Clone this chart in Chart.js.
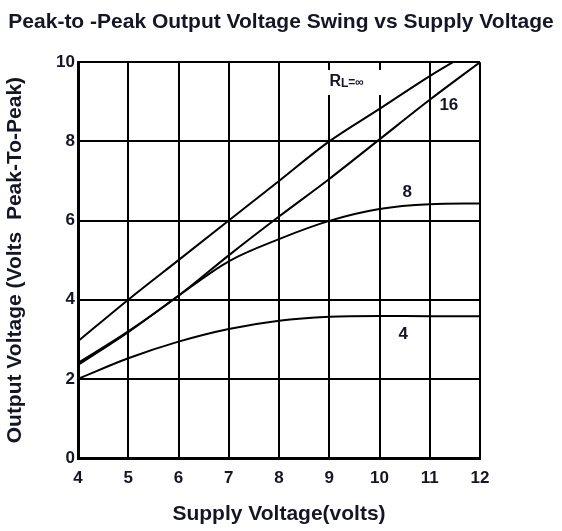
<!DOCTYPE html>
<html>
<head>
<meta charset="utf-8">
<script src="https://cdn.jsdelivr.net/npm/chart.js@4"></script>
<style>
  html, body { margin: 0; padding: 0; background: #fff; }
  #wrap { width: 562px; height: 531px; }
</style>
</head>
<body>
<div id="wrap"><canvas id="swingChart"></canvas></div>
<script>
// supply voltage (x) and output swing for each load
const supplyV = [4, 5, 6, 7, 8, 9, 10, 11, 12];
const swingInf = [2.95, 4.0, 5.0, 6.0, 7.0, 8.0, 8.82, 9.65, 10.4];
const swing16 = [2.4, 3.2, 4.1, 5.12, 6.1, 7.05, 8.05, 9.05, 10.0];
const swing8 = [2.35, 3.18, 4.1, 4.97, 5.53, 5.99, 6.29, 6.41, 6.43];
const swing4 = [2.0, 2.52, 2.94, 3.26, 3.47, 3.57, 3.59, 3.58, 3.58];

const yTicks = [0, 2, 4, 6, 8, 10];

// curve labels, placed in data units
const curveLabels = ['RL=∞', '16', '8', '4'];
const labelX = [9.5, 11.38, 10.55, 10.47];
const labelY = [9.5, 8.91, 6.72, 3.13];

const textColor = '#15152a';
const fontFam = '"Liberation Sans", Arial, sans-serif';

function series(vals) {
  return supplyV.map((v, i) => ({ x: v, y: vals[i] }));
}

const lineStyle = {
  borderColor: '#000',
  borderWidth: 2,
  pointRadius: 0,
  fill: false,
  cubicInterpolationMode: 'monotone'
};

// draws the load labels next to the curves
const curveLabelPlugin = {
  id: 'curveLabels',
  afterDatasetsDraw(chart) {
    const { ctx, scales } = chart;
    ctx.save();
    ctx.fillStyle = textColor;
    ctx.textBaseline = 'middle';
    curveLabels.forEach((txt, i) => {
      const px = scales.x.getPixelForValue(labelX[i]);
      const py = scales.y.getPixelForValue(labelY[i]);
      if (txt.startsWith('RL')) {
        // white box behind the label, R with small L
        ctx.fillStyle = '#fff';
        ctx.fillRect(px - 28, py - 12, 55, 25);
        ctx.fillStyle = textColor;
        ctx.textAlign = 'left';
        ctx.font = 'bold 16px ' + fontFam;
        let x = px - 25;
        ctx.fillText('R', x, py);
        x += ctx.measureText('R').width;
        ctx.font = 'bold 12px ' + fontFam;
        ctx.fillText('L', x, py + 2);
        x += ctx.measureText('L').width;
        ctx.fillText('=∞', x, py + 1);
      } else {
        ctx.textAlign = 'center';
        ctx.font = 'bold 17px ' + fontFam;
        ctx.fillText(txt, px, py);
      }
    });
    ctx.restore();
  }
};

const ctx = document.getElementById('swingChart').getContext('2d');
const swingChart = new Chart(ctx, {
  type: 'line',
  data: {
    datasets: [
      Object.assign({ label: 'RL=inf', data: series(swingInf) }, lineStyle),
      Object.assign({ label: 'RL=16', data: series(swing16) }, lineStyle),
      Object.assign({ label: 'RL=8', data: series(swing8) }, lineStyle),
      Object.assign({ label: 'RL=4', data: series(swing4) }, lineStyle)
    ]
  },
  options: {
    responsive: true,
    maintainAspectRatio: false,
    animation: false,
    layout: { padding: 0 },
    plugins: {
      legend: { display: false },
      tooltip: { enabled: false },
      title: {
        display: true,
        text: 'Peak-to -Peak Output Voltage Swing vs Supply Voltage',
        color: textColor,
        font: { family: fontFam, size: 21, weight: 'bold' },
        padding: { top: 10, bottom: 27 }
      }
    },
    scales: {
      x: {
        type: 'linear',
        min: 4,
        max: 12,
        afterFit(scale) { scale.height = 73; },
        ticks: {
          stepSize: 1,
          color: textColor,
          padding: 10,
          font: { family: fontFam, size: 17, weight: 'bold' }
        },
        grid: { color: '#000', lineWidth: 2, drawTicks: false },
        border: { color: '#000', width: 3 },
        title: {
          display: true,
          text: 'Supply Voltage(volts)',
          color: textColor,
          font: { family: fontFam, size: 21, weight: 'bold' },
          padding: { top: 0, bottom: 4 }
        }
      },
      y: {
        min: 0,
        max: 10,
        afterFit(scale) { scale.width = 78; },
        afterBuildTicks(scale) { scale.ticks = yTicks.map(v => ({ value: v })); },
        ticks: {
          color: textColor,
          padding: 3,
          font: { family: fontFam, size: 17, weight: 'bold' }
        },
        grid: { color: '#000', lineWidth: 2, drawTicks: false },
        border: { color: '#000', width: 3 },
        title: {
          display: true,
          text: 'Output Voltage (Volts  Peak-To-Peak)',
          color: textColor,
          font: { family: fontFam, size: 21, weight: 'bold' },
          padding: { top: 3, bottom: 0 }
        }
      },
      // empty right axis, only reserves the margin on the right
      yRight: {
        position: 'right',
        min: 0,
        max: 10,
        afterFit(scale) { scale.width = 82; },
        ticks: { display: false },
        grid: { display: false, drawTicks: false },
        border: { display: false }
      }
    }
  },
  plugins: [curveLabelPlugin]
});
</script>
</body>
</html>
